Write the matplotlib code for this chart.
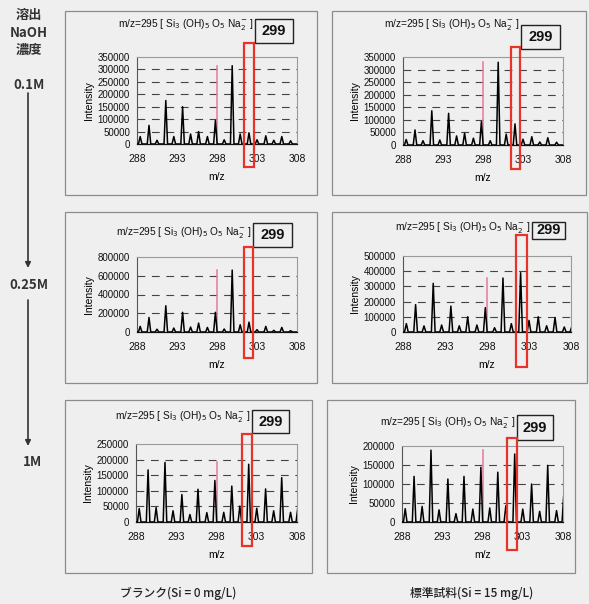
import matplotlib
matplotlib.use("Agg")
import matplotlib.pyplot as plt
from matplotlib.patches import Rectangle, FancyArrowPatch

plt.rcParams['font.family'] = ['Liberation Sans', 'Noto Sans CJK JP', 'DejaVu Sans']

W, H = 589, 604
BG = '#efefef'

# ---------------- data ----------------
mz_ticks = [288, 293, 298, 303, 308]
peak_mz = [288.4, 289.5, 290.5, 291.6, 292.6, 293.7, 294.7, 295.7, 296.8, 297.8,
           298.9, 299.9, 300.9, 302.0, 303.0, 304.1, 305.1, 306.1, 307.2, 308.1]
marker_mz = 298.0   # pink reference line
highlight_label = "299"
title_text = r"m/z=295 [ Si$_3$ (OH)$_5$ O$_5$ Na$_2^{-}$ ]"

blank_01 = [30000, 75000, 15000, 175000, 30000, 150000, 40000, 50000, 30000, 95000,
            17000, 315000, 40000, 45000, 17000, 33000, 15000, 30000, 13000, 0]
std_01 = [22000, 60000, 17000, 136000, 20000, 126000, 36000, 47000, 27000, 93000,
          17000, 329000, 43000, 84000, 23000, 33000, 12000, 29000, 11000, 0]
blank_025 = [60000, 155000, 30000, 280000, 42000, 210000, 53000, 95000, 49000, 210000,
             32000, 660000, 77000, 105000, 25000, 60000, 18000, 49000, 14000, 0]
std_025 = [55000, 180000, 40000, 320000, 46000, 170000, 41000, 100000, 46000, 160000,
           28000, 355000, 55000, 390000, 76000, 100000, 41000, 95000, 33000, 37000]
blank_1 = [43000, 167000, 46000, 191000, 36000, 88000, 24000, 105000, 30000, 133000,
           31000, 115000, 51000, 185000, 44000, 106000, 36000, 142000, 31000, 46000]
std_1 = [35000, 120000, 41000, 189000, 32000, 113000, 22000, 120000, 34000, 144000,
         37000, 131000, 43000, 179000, 34000, 100000, 28000, 149000, 30000, 74000]

marker_heights = [315000, 329000, 660000, 355000, 191000, 189000]
y_max = [350000, 350000, 800000, 500000, 250000, 200000]
y_step = [50000, 50000, 200000, 100000, 50000, 50000]
series = [blank_01, std_01, blank_025, std_025, blank_1, std_1]

row_labels = ["0.1M", "0.25M", "1M"]
col_labels = ["ブランク(Si = 0 mg/L)", "標準試料(Si = 15 mg/L)"]

# ---------------- layout (reference pixel coordinates) ----------------
frames = [(65, 11, 317, 195), (332, 11, 586, 195),
          (65, 212, 317, 383), (332, 212, 587, 383),
          (65, 400, 312, 573), (327, 400, 575, 573)]
axes_px = [(137, 57, 297, 144), (403, 57, 563, 145),
           (137, 257, 297, 332), (403, 256, 571, 332),
           (136, 444, 297, 522), (402, 446, 563, 522)]
red_px = [(244, 43, 254, 167), (511, 47, 520, 169),
          (244, 247, 253, 358), (516, 235, 527, 367),
          (242, 434, 252, 546), (507, 438, 517, 550)]
box_px = [(255, 19, 293, 43), (521, 25, 560, 49),
          (253, 223, 292, 247), (532, 222, 565, 239),
          (252, 410, 289, 433), (517, 415, 553, 440)]
title_y = [25, 25, 233, 228, 416, 422]


def fx(x):
    return x / W


def fy(y):
    return 1 - y / H


fig = plt.figure(figsize=(W / 100, H / 100), dpi=100, facecolor=BG)

for i in range(6):
    # panel frame
    x0, y0, x1, y1 = frames[i]
    fig.patches.append(Rectangle((fx(x0), fy(y1)), fx(x1) - fx(x0), fy(y0) - fy(y1),
                                 transform=fig.transFigure, fill=False,
                                 edgecolor='#8c8c8c', linewidth=0.9, zorder=0.5))
    ax0, ay0, ax1, ay1 = axes_px[i]
    ax = fig.add_axes([fx(ax0), fy(ay1), fx(ax1) - fx(ax0), fy(ay0) - fy(ay1)])
    ax.set_facecolor(BG)

    # spectrum profile built from peak list
    xs, ys = [288.0], [0]
    for p, h in zip(peak_mz, series[i]):
        xs += [p - 0.22, p, p + 0.22]
        ys += [0, h, 0]
    xs.append(308.5)
    ys.append(0)
    ax.plot(xs, ys, color='black', linewidth=1.1, zorder=3, clip_on=True)
    ax.plot([marker_mz, marker_mz], [0, marker_heights[i]], color='#e27aa0',
            linewidth=1.1, zorder=2)

    ax.set_xlim(288, 308)
    ax.set_ylim(0, y_max[i])
    ax.set_xticks(mz_ticks)
    yt = list(range(0, y_max[i] + 1, y_step[i]))
    ax.set_yticks(yt)
    ax.set_yticklabels([str(v) for v in yt])
    for v in yt[1:-1]:
        ax.axhline(v, color='#444444', linewidth=0.8, dashes=(7, 6), zorder=1)
    ax.tick_params(axis='y', labelsize=7, length=0, pad=5, colors='#111111')
    ax.tick_params(axis='x', labelsize=7.5, length=0, pad=7, colors='#111111')
    for s in ['top', 'right']:
        ax.spines[s].set_color('#9a9a9a')
        ax.spines[s].set_linewidth(0.8)
    ax.spines['left'].set_color('#555555')
    ax.spines['left'].set_linewidth(0.8)
    ax.spines['bottom'].set_color('#111111')
    ax.spines['bottom'].set_linewidth(0.9)
    ax.set_ylabel("Intensity", fontsize=7.5, labelpad=3)
    ax.set_xlabel("m/z", fontsize=7.5, labelpad=6)

    # label box
    bx0, by0, bx1, by1 = box_px[i]
    fig.patches.append(Rectangle((fx(bx0), fy(by1)), fx(bx1) - fx(bx0), fy(by0) - fy(by1),
                                 transform=fig.transFigure, facecolor=BG,
                                 edgecolor='#222222', linewidth=1.0, zorder=6))
    fig.text(fx((bx0 + bx1) / 2), fy((by0 + by1) / 2), highlight_label, ha='center',
             va='center', fontsize=10.5, fontweight='bold', color='#111111', zorder=7)

    # title, ending just left of the label box
    fig.text(fx(bx0 - 1.5), fy(title_y[i]), title_text, ha='right', va='center',
             fontsize=7.3, color='#111111')

    # red highlight box
    rx0, ry0, rx1, ry1 = red_px[i]
    fig.patches.append(Rectangle((fx(rx0), fy(ry1)), fx(rx1) - fx(rx0), fy(ry0) - fy(ry1),
                                 transform=fig.transFigure, fill=False,
                                 edgecolor='#e8332a', linewidth=1.6, zorder=8))

# left side annotation
cjk = ['Noto Sans CJK JP', 'DejaVu Sans']
for lab, yy in [("溶出", 15), ("NaOH", 33), ("濃度", 50)]:
    fig.text(fx(29), fy(yy), lab, ha='center', va='center', fontsize=9.5,
             family=cjk, fontweight='bold', color='#333333')
row_y = [85, 285, 462]
row_x = [29, 29, 32]
for lab, xx, yy in zip(row_labels, row_x, row_y):
    fig.text(fx(xx), fy(yy), lab, ha='center', va='center', fontsize=9.5,
             family=cjk, fontweight='bold', color='#333333')
for (ya, yb) in [(93, 268), (300, 446)]:
    fig.patches.append(FancyArrowPatch((fx(28), fy(ya)), (fx(28), fy(yb)),
                                       transform=fig.transFigure, arrowstyle='-|>',
                                       mutation_scale=8, color='#333333',
                                       linewidth=1.2, shrinkA=0, shrinkB=0))

# bottom labels
fig.text(fx(178), fy(593), col_labels[0], ha='center', va='center', fontsize=8.5,
         family=cjk, fontweight='medium', color='#222222')
fig.text(fx(472), fy(593), col_labels[1], ha='center', va='center', fontsize=8.5,
         family=cjk, fontweight='medium', color='#222222')

fig.savefig("out.png", dpi=100, facecolor=BG)
